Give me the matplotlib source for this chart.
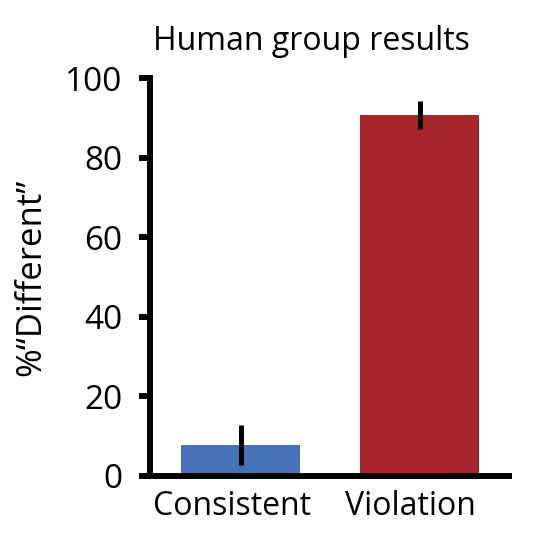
import numpy as np
import matplotlib
matplotlib.use("Agg")
import matplotlib.pyplot as plt
from matplotlib.transforms import ScaledTranslation

plt.rcParams['font.family'] = ['Open Sans', 'DejaVu Sans']

categories = ["Consistent", "Violation"]
values = [7.8, 90.7]
errors = [5.1, 3.6]
colors = ["#4672b8", "#a6262c"]

fig = plt.figure(figsize=(5.33, 5.37), dpi=100)
ax = fig.add_axes([0.2814, 0.1136, 0.6736, 0.7411])

x = np.arange(len(categories))
ax.bar(x, values, width=0.665, color=colors, zorder=1)
ax.errorbar(x, values, yerr=errors, fmt="none", ecolor="black",
            elinewidth=3.6, capsize=0, zorder=2)

ax.set_xlim(-0.506, 1.5)
ax.set_ylim(0, 100)
ax.set_yticks([0, 20, 40, 60, 80, 100])
ax.set_xticks(x)
ax.set_xticklabels(categories)

for s in ["top", "right"]:
    ax.spines[s].set_visible(False)
for s in ["left", "bottom"]:
    ax.spines[s].set_linewidth(4.3)

ax.tick_params(axis="y", length=8, width=4.3, labelsize=24, pad=12)
ax.tick_params(axis="x", length=0, labelsize=23, pad=10)

# labels sit a bit left of the bar centres in the original
shift = ScaledTranslation(-9 / 100, 0, fig.dpi_scale_trans)
for lab in ax.get_xticklabels():
    lab.set_transform(lab.get_transform() + shift)

ax.set_ylabel("%\u201cDifferent\u201d", fontsize=25, labelpad=12)
ax.set_title("Human group results", fontsize=23, pad=20, x=0.45)

fig.savefig("out.png", dpi=100)
